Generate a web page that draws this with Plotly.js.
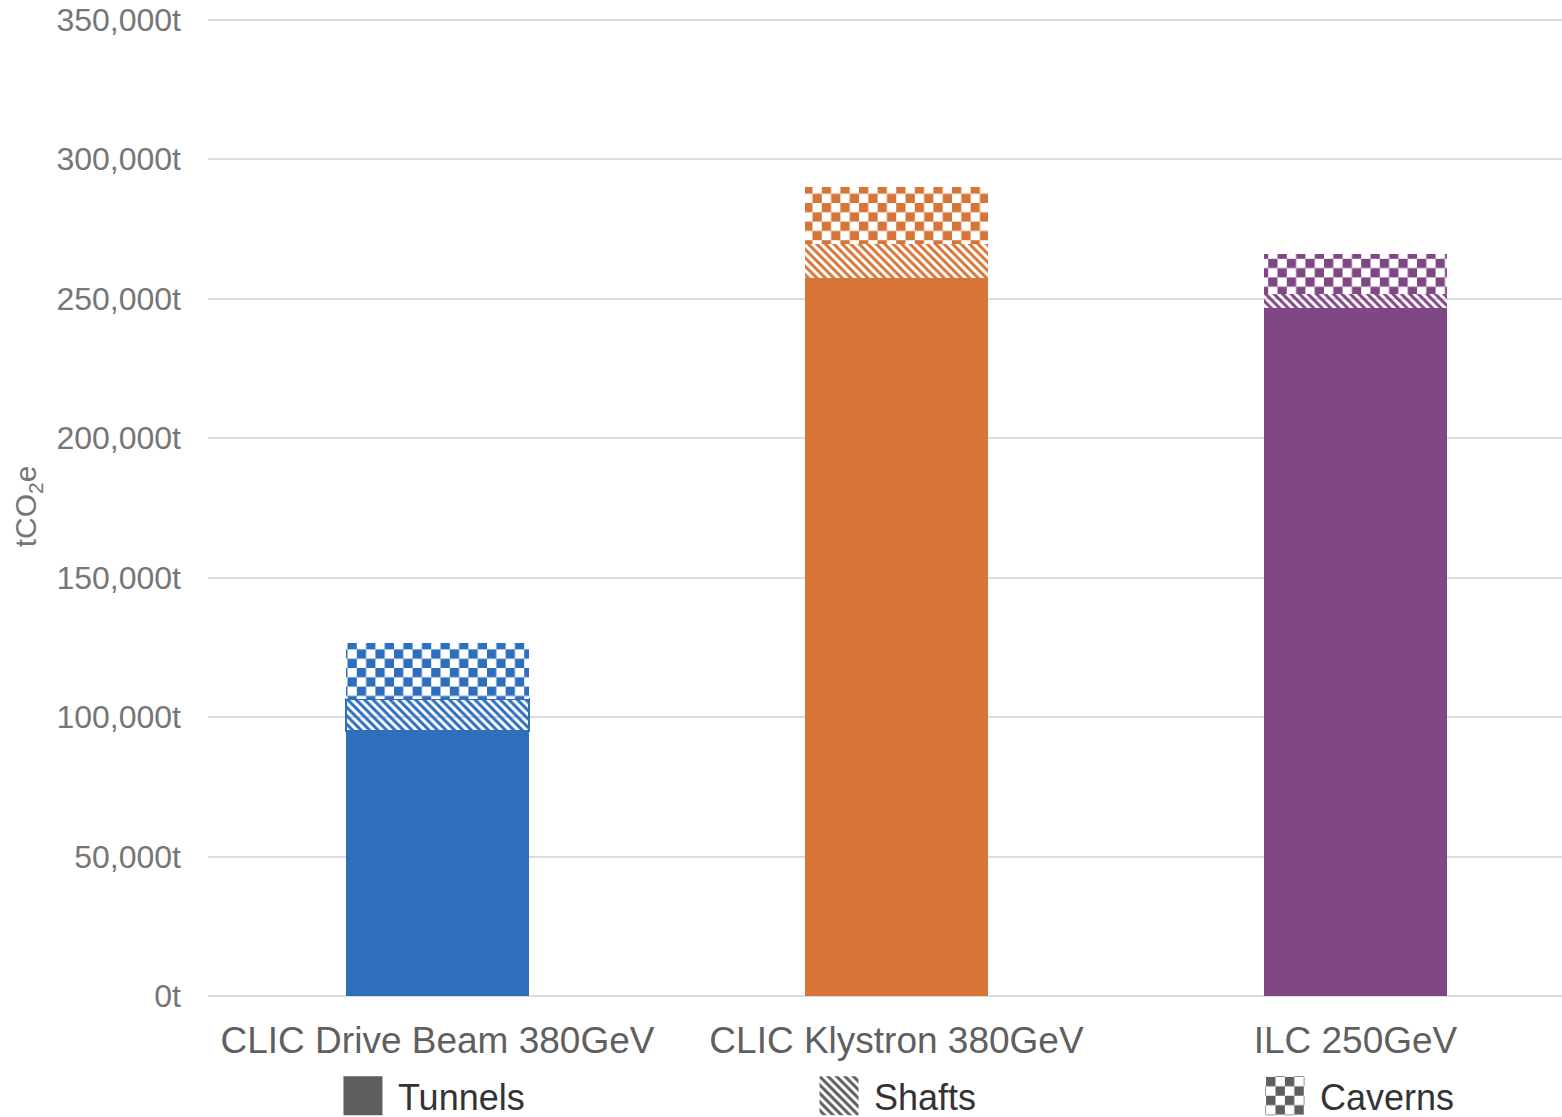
<!DOCTYPE html>
<html>
<head>
<meta charset="utf-8">
<script src="https://cdn.plot.ly/plotly-3.0.1.min.js"></script>
<style>
  html, body { margin: 0; padding: 0; background: #ffffff; }
  #chart { width: 1562px; height: 1117px; }
</style>
</head>
<body>
<div id="chart"></div>
<script>
// Embodied carbon of civil construction, by accelerator option (tCO2e)
const categories = ['CLIC Drive Beam 380GeV', 'CLIC Klystron 380GeV', 'ILC 250GeV'];
const tunnels = [95000, 257600, 246600];
const shafts  = [11400, 12000, 5100];
const caverns = [20200, 20300, 14400];
const seriesNames = ['Tunnels', 'Shafts', 'Caverns'];
const yTicks = [0, 50000, 100000, 150000, 200000, 250000, 300000, 350000];
const yTickText = yTicks.map(v => v.toLocaleString('en-US') + 't');

const barColors = ['#2E6FBD', '#D77538', '#804785'];
const legendGrey = '#5E5E5E';
const FONT = '"Liberation Sans", Arial, Helvetica, sans-serif';

const shaftPattern = { shape: '\\', size: 6, solidity: 0.5, fillmode: 'replace', bgcolor: '#ffffff' };

const traces = [
  { type: 'bar', name: seriesNames[0], x: categories, y: tunnels,
    marker: { color: barColors, line: { width: 0 } }, showlegend: false, hoverinfo: 'skip' },
  { type: 'bar', name: seriesNames[1], x: categories, y: shafts,
    marker: { color: barColors, line: { width: [2, 0, 0], color: barColors }, pattern: shaftPattern },
    showlegend: false, hoverinfo: 'skip' },
  { type: 'bar', name: seriesNames[2], x: categories, y: caverns,
    marker: { color: barColors, line: { width: 0 } }, showlegend: false, hoverinfo: 'skip' },
  // legend keys in neutral grey (zero-height, so nothing is added to the stacks)
  { type: 'bar', name: seriesNames[0], x: [categories[0]], y: [0], legend: 'legend',
    showlegend: true, hoverinfo: 'skip',
    marker: { color: legendGrey, line: { width: 0 } } },
  { type: 'bar', name: seriesNames[1], x: [categories[0]], y: [0], legend: 'legend2',
    showlegend: true, hoverinfo: 'skip',
    marker: { color: legendGrey, line: { width: 0 },
              pattern: { shape: '\\', size: 2.3, solidity: 0.5, fillmode: 'replace', bgcolor: '#ffffff' } } },
  { type: 'bar', name: seriesNames[2], x: [categories[0]], y: [0], legend: 'legend3',
    showlegend: true, hoverinfo: 'skip',
    marker: { color: legendGrey, line: { width: 0 } } }
];

const legendBase = {
  orientation: 'h', yanchor: 'middle', xanchor: 'left', y: -0.102,
  bgcolor: 'rgba(0,0,0,0)', borderwidth: 0, itemwidth: 60,
  font: { family: FONT, size: 36, color: '#333333' }
};

const layout = {
  width: 1562, height: 1117,
  margin: { l: 208, r: 0, t: 17, b: 121, autoexpand: false },
  paper_bgcolor: '#ffffff', plot_bgcolor: '#ffffff',
  barmode: 'stack', bargap: 0.6,
  hovermode: false,
  font: { family: FONT },
  xaxis: {
    type: 'category', range: [-0.5, 2.45], fixedrange: true,
    showgrid: false, zeroline: false, showline: false, ticks: '',
    ticklabelstandoff: 19,
    tickfont: { family: FONT, size: 37, color: '#5F5F5F' }
  },
  yaxis: {
    range: [0, 351000], fixedrange: true,
    tickmode: 'array', tickvals: yTicks, ticktext: yTickText,
    showgrid: true, gridcolor: '#DCDCDC', gridwidth: 2,
    zeroline: true, zerolinecolor: '#DCDCDC', zerolinewidth: 2,
    showline: false, ticks: '',
    ticklabelstandoff: 26,
    tickfont: { family: FONT, size: 32, color: '#767676' },
    title: { text: 'tCO<sub>2</sub>e', standoff: 10,
             font: { family: FONT, size: 30, color: '#767676' } }
  },
  legend:  Object.assign({}, legendBase, { x: 0.0886 }),
  legend2: Object.assign({}, legendBase, { x: 0.4402 }),
  legend3: Object.assign({}, legendBase, { x: 0.7695 })
};

// checkerboard fill for the caverns segments and their legend key
function addChecker(svg, id, color, cell) {
  const NS = 'http://www.w3.org/2000/svg';
  let defs = svg.querySelector('defs.checker-defs');
  if (!defs) {
    defs = document.createElementNS(NS, 'defs');
    defs.setAttribute('class', 'checker-defs');
    svg.insertBefore(defs, svg.firstChild);
  }
  const pat = document.createElementNS(NS, 'pattern');
  pat.setAttribute('id', id);
  pat.setAttribute('patternUnits', 'userSpaceOnUse');
  pat.setAttribute('width', 2 * cell);
  pat.setAttribute('height', 2 * cell);
  const bg = document.createElementNS(NS, 'rect');
  bg.setAttribute('width', 2 * cell); bg.setAttribute('height', 2 * cell);
  bg.setAttribute('fill', '#ffffff');
  pat.appendChild(bg);
  [[0, 0], [cell, cell]].forEach(([x, y]) => {
    const r = document.createElementNS(NS, 'rect');
    r.setAttribute('x', x); r.setAttribute('y', y);
    r.setAttribute('width', cell); r.setAttribute('height', cell);
    r.setAttribute('fill', color);
    pat.appendChild(r);
  });
  defs.appendChild(pat);
}

function decorate(gd) {
  const svg = gd.querySelector('.main-svg');
  barColors.forEach((c, i) => addChecker(svg, 'cav-' + i, c, 9.3));
  addChecker(svg, 'cav-legend', legendGrey, 2.9);

  gd.querySelectorAll('.barlayer g.trace').forEach(tr => {
    const cd = tr.__data__;
    if (!cd || !cd[0]) return;
    const tr0 = cd[0].trace;
    if (tr0.name !== 'Caverns' || tr0.showlegend) return;
    tr.querySelectorAll('g.point').forEach(pt => {
      const i = pt.__data__.i;
      const path = pt.querySelector('path');
      if (path) path.style.fill = 'url(#cav-' + i + ')';
    });
  });

  gd.querySelectorAll('.infolayer g.traces').forEach(item => {
    const d = item.__data__;
    const name = d && d[0] && d[0].trace ? d[0].trace.name : '';
    item.querySelectorAll('.legendpoints path').forEach(p => {
      const t = p.getAttribute('transform') || '';
      p.setAttribute('transform', t + ' scale(3.25)');
      if (name === 'Caverns') p.style.fill = 'url(#cav-legend)';
    });
  });
}

Plotly.newPlot('chart', traces, layout, { staticPlot: true, displayModeBar: false })
  .then(decorate);
</script>
</body>
</html>
